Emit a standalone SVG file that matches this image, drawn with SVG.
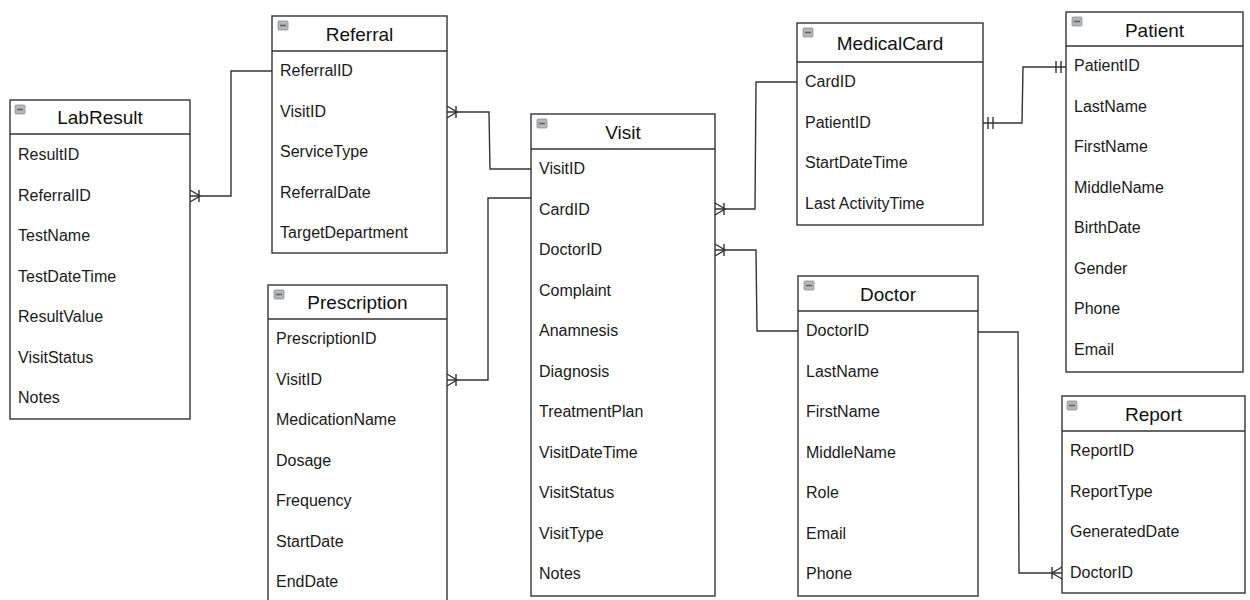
<svg xmlns="http://www.w3.org/2000/svg" width="1250" height="600" viewBox="0 0 1250 600">
  <style>
    .box { fill: #ffffff; stroke: #333333; stroke-width: 1.4; }
    .sep { stroke: #333333; stroke-width: 1.4; }
    .title { font-family: "Liberation Sans", Arial, sans-serif; font-size: 19px; fill: #111111; text-anchor: middle; }
    .field { font-family: "Liberation Sans", Arial, sans-serif; font-size: 16px; fill: #1a1a1a; }
    .icon { fill: #b4b7bc; stroke: #8c8f94; stroke-width: 0.8; }
    .icon-bar { stroke: #5f6267; stroke-width: 1.6; }
    .link { fill: none; stroke: #333333; stroke-width: 1.4; }
    .end { fill: none; stroke: #333333; stroke-width: 1.4; }
  </style>
  <defs>
    <!-- collapse toggle shown in each table header -->
    <g id="toggle">
      <rect class="icon" x="0" y="0" width="10" height="9" rx="1"/>
      <line class="icon-bar" x1="2" y1="4.5" x2="8" y2="4.5"/>
    </g>
  </defs>

  <rect width="1250" height="600" fill="#ffffff"/>

  <!-- relationships -->
  <g id="connectors">
    <!-- Referral.ReferralID -> LabResult.ReferralID -->
    <path class="link" d="M272,71 H231 V196 H190"/>
    <path class="end" d="M190,190 L200,196 L190,202 M199,190 V202"/>
    <!-- Visit.VisitID -> Referral.VisitID -->
    <path class="link" d="M531,169 H490 L489,112 H447"/>
    <path class="end" d="M447,106 L457,112 L447,118 M456,106 V118"/>
    <!-- Visit -> Prescription.VisitID -->
    <path class="link" d="M531,198 H488 V380 H447"/>
    <path class="end" d="M447,374 L457,380 L447,386 M456,374 V386"/>
    <!-- MedicalCard.CardID -> Visit.CardID -->
    <path class="link" d="M797,82 H756 L755,209 H715"/>
    <path class="end" d="M715,203 L725,209 L715,215 M724,203 V215"/>
    <!-- Doctor.DoctorID -> Visit.DoctorID -->
    <path class="link" d="M798,331 H757 L756,250 H715"/>
    <path class="end" d="M715,244 L725,250 L715,256 M724,244 V256"/>
    <!-- MedicalCard.PatientID -> Patient.PatientID (one to one) -->
    <path class="link" d="M983,123 H1022 L1023,67 H1066"/>
    <path class="end" d="M988,117 V129 M993,117 V129 M1056,61 V73 M1061,61 V73"/>
    <!-- Doctor.DoctorID -> Report.DoctorID -->
    <path class="link" d="M978,332 H1018 L1019,573 H1062"/>
    <path class="end" d="M1062,567 L1052,573 L1062,579 M1052,567 V579"/>
  </g>

  <!-- LabResult -->
  <g id="labresult">
    <rect class="box" x="10" y="100" width="180" height="319"/>
    <line class="sep" x1="10" y1="134" x2="190" y2="134"/>
    <use href="#toggle" x="15" y="105"/>
    <text class="title" x="100" y="124">LabResult</text>
    <text class="field" x="18" y="160">ResultID</text>
    <text class="field" x="18" y="200.5">ReferralID</text>
    <text class="field" x="18" y="241">TestName</text>
    <text class="field" x="18" y="281.5">TestDateTime</text>
    <text class="field" x="18" y="322">ResultValue</text>
    <text class="field" x="18" y="362.5">VisitStatus</text>
    <text class="field" x="18" y="403">Notes</text>
  </g>

  <!-- Referral -->
  <g id="referral">
    <rect class="box" x="272" y="16" width="175" height="237"/>
    <line class="sep" x1="272" y1="51" x2="447" y2="51"/>
    <use href="#toggle" x="278" y="21"/>
    <text class="title" x="359.5" y="41">Referral</text>
    <text class="field" x="280" y="76">ReferralID</text>
    <text class="field" x="280" y="116.5">VisitID</text>
    <text class="field" x="280" y="157">ServiceType</text>
    <text class="field" x="280" y="197.5">ReferralDate</text>
    <text class="field" x="280" y="238">TargetDepartment</text>
  </g>

  <!-- Prescription -->
  <g id="prescription">
    <rect class="box" x="268" y="285" width="179" height="330"/>
    <line class="sep" x1="268" y1="319" x2="447" y2="319"/>
    <use href="#toggle" x="274" y="290"/>
    <text class="title" x="357.5" y="309">Prescription</text>
    <text class="field" x="276" y="344">PrescriptionID</text>
    <text class="field" x="276" y="384.5">VisitID</text>
    <text class="field" x="276" y="425">MedicationName</text>
    <text class="field" x="276" y="465.5">Dosage</text>
    <text class="field" x="276" y="506">Frequency</text>
    <text class="field" x="276" y="546.5">StartDate</text>
    <text class="field" x="276" y="587">EndDate</text>
  </g>

  <!-- Visit -->
  <g id="visit">
    <rect class="box" x="531" y="114" width="184" height="482"/>
    <line class="sep" x1="531" y1="149" x2="715" y2="149"/>
    <use href="#toggle" x="537" y="119"/>
    <text class="title" x="623" y="139">Visit</text>
    <text class="field" x="539" y="174">VisitID</text>
    <text class="field" x="539" y="214.5">CardID</text>
    <text class="field" x="539" y="255">DoctorID</text>
    <text class="field" x="539" y="295.5">Complaint</text>
    <text class="field" x="539" y="336">Anamnesis</text>
    <text class="field" x="539" y="376.5">Diagnosis</text>
    <text class="field" x="539" y="417">TreatmentPlan</text>
    <text class="field" x="539" y="457.5">VisitDateTime</text>
    <text class="field" x="539" y="498">VisitStatus</text>
    <text class="field" x="539" y="538.5">VisitType</text>
    <text class="field" x="539" y="579">Notes</text>
  </g>

  <!-- MedicalCard -->
  <g id="medicalcard">
    <rect class="box" x="797" y="23" width="186" height="202"/>
    <line class="sep" x1="797" y1="62" x2="983" y2="62"/>
    <use href="#toggle" x="803" y="28"/>
    <text class="title" x="890" y="50">MedicalCard</text>
    <text class="field" x="805" y="87">CardID</text>
    <text class="field" x="805" y="127.5">PatientID</text>
    <text class="field" x="805" y="168">StartDateTime</text>
    <text class="field" x="805" y="208.5">Last ActivityTime</text>
  </g>

  <!-- Patient -->
  <g id="patient">
    <rect class="box" x="1066" y="12" width="177" height="360"/>
    <line class="sep" x1="1066" y1="46" x2="1243" y2="46"/>
    <use href="#toggle" x="1072" y="17"/>
    <text class="title" x="1154.5" y="37">Patient</text>
    <text class="field" x="1074" y="71">PatientID</text>
    <text class="field" x="1074" y="111.5">LastName</text>
    <text class="field" x="1074" y="152">FirstName</text>
    <text class="field" x="1074" y="192.5">MiddleName</text>
    <text class="field" x="1074" y="233">BirthDate</text>
    <text class="field" x="1074" y="273.5">Gender</text>
    <text class="field" x="1074" y="314">Phone</text>
    <text class="field" x="1074" y="354.5">Email</text>
  </g>

  <!-- Doctor -->
  <g id="doctor">
    <rect class="box" x="798" y="276" width="180" height="320"/>
    <line class="sep" x1="798" y1="311" x2="978" y2="311"/>
    <use href="#toggle" x="804" y="281"/>
    <text class="title" x="888" y="301">Doctor</text>
    <text class="field" x="806" y="336">DoctorID</text>
    <text class="field" x="806" y="376.5">LastName</text>
    <text class="field" x="806" y="417">FirstName</text>
    <text class="field" x="806" y="457.5">MiddleName</text>
    <text class="field" x="806" y="498">Role</text>
    <text class="field" x="806" y="538.5">Email</text>
    <text class="field" x="806" y="579">Phone</text>
  </g>

  <!-- Report -->
  <g id="report">
    <rect class="box" x="1062" y="396" width="183" height="197"/>
    <line class="sep" x1="1062" y1="431" x2="1245" y2="431"/>
    <use href="#toggle" x="1067" y="401"/>
    <text class="title" x="1153.5" y="421">Report</text>
    <text class="field" x="1070" y="456">ReportID</text>
    <text class="field" x="1070" y="496.5">ReportType</text>
    <text class="field" x="1070" y="537">GeneratedDate</text>
    <text class="field" x="1070" y="577.5">DoctorID</text>
  </g>
</svg>
